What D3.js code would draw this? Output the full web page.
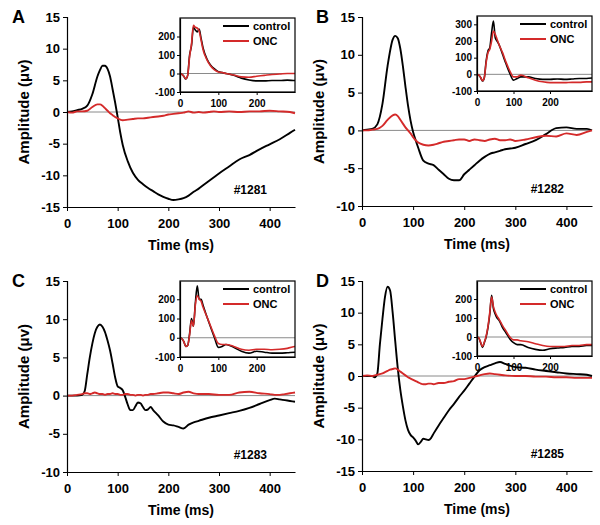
<html>
<head>
<meta charset="utf-8">
<script src="https://d3js.org/d3.v7.min.js"></script>
<style>
  body { margin: 0; background: white; }
  text { font-family: "Liberation Sans", Arial, sans-serif; font-weight: bold; }
</style>
</head>
<body>
<script>
// ---- data ----
const mainTicksX = [0, 100, 200, 300, 400];
const insetTicksX = [0, 100, 200];
const seriesNames = ["control", "ONC"];

const timeA = [0,10,20,30,40,50,60,65,70,75,80,85,90,95,100,105,110,120,130,140,150,160,170,180,190,200,210,220,230,240,250,260,270,280,290,300,320,340,360,380,400,420,440,450];
const controlA = [0,0.1,0.3,0.5,1.0,2.8,5.6,6.6,7.3,7.3,6.8,5.6,3.6,1.5,-0.8,-3.2,-5.2,-7.8,-9.6,-10.7,-11.4,-12.0,-12.5,-13.0,-13.4,-13.7,-13.9,-13.8,-13.6,-13.2,-12.6,-12.1,-11.5,-10.9,-10.3,-9.7,-8.6,-7.5,-6.8,-5.9,-5.1,-4.3,-3.3,-2.8];
const oncA = [0,-0.1,0.1,0.1,0.2,0.8,1.2,1.2,1.0,0.6,0.2,-0.2,-0.5,-0.8,-1.0,-1.2,-1.3,-1.2,-1.1,-1.0,-1.0,-0.9,-0.8,-0.7,-0.6,-0.4,-0.3,-0.2,-0.1,0.1,-0.1,0,-0.1,0,0.1,0,0.1,0,0.1,0.1,0.2,0.1,0,-0.2];

const timeB = timeA;
const controlB = [0,0.1,0.2,0.8,3.5,8.5,12.0,12.5,12.2,10.8,8.5,5.8,3.3,1.3,-0.2,-1.3,-2.3,-4.0,-4.4,-4.6,-5.2,-5.8,-6.4,-6.6,-6.6,-5.8,-5.2,-4.6,-4.0,-3.5,-3.1,-2.9,-2.7,-2.5,-2.4,-2.3,-1.8,-1.3,-0.5,0.3,0.4,0.2,0.2,0];
const oncB = [0,0,0.1,0.2,0.6,1.4,2.0,2.1,1.9,1.4,0.9,0.4,0,-0.4,-0.9,-1.3,-1.6,-1.9,-2.0,-1.9,-1.7,-1.5,-1.4,-1.3,-1.2,-1.2,-1.4,-1.2,-1.3,-1.4,-1.2,-1.1,-1.3,-1.3,-1.2,-1.4,-1.2,-0.9,-0.7,-0.8,-0.4,-0.6,-0.2,0];

const timeC = [0,10,20,30,35,40,45,50,55,60,65,70,75,80,85,90,95,100,105,110,115,120,125,130,135,140,145,150,155,160,165,170,180,190,200,210,220,230,240,250,260,280,300,320,340,360,380,400,410,420,430,440,450];
const controlC = [0,0,0,0.1,0.6,2.8,5.0,6.8,8.2,9.0,9.3,9.0,8.3,7.2,5.9,4.2,2.4,1.2,1.0,0.7,-0.2,-1.2,-1.9,-1.9,-1.4,-0.9,-1.0,-1.5,-1.9,-1.8,-1.5,-1.9,-2.6,-3.4,-3.8,-3.9,-4.1,-4.3,-3.8,-3.5,-3.3,-2.9,-2.6,-2.3,-2.0,-1.6,-1.1,-0.6,-0.4,-0.5,-0.6,-0.7,-0.8];
const oncC = [0,0,0.1,0.2,0.3,0.3,0.2,0.3,0.4,0.3,0.2,0.2,0.1,0.2,0.2,0.3,0.2,0.2,0.1,0.1,0.2,0.2,0.1,0.1,0,0.1,0.1,0,0.1,0.1,0.2,0.2,0.3,0.4,0.4,0.3,0.2,0.4,0.5,0.3,0.2,0.2,0.1,0.1,0.4,0.5,0.3,0.2,0.1,0.1,0.2,0.3,0.4];

const timeD = [0,10,20,25,30,35,40,45,50,55,60,65,70,75,80,85,90,95,100,105,110,115,120,125,130,135,140,150,160,170,180,190,200,210,220,230,240,250,260,270,280,300,320,340,360,380,400,420,440,450];
const controlD = [0,0,0,-0.2,0.4,5.0,9.0,12.5,14.1,13.5,10.0,5.5,1.2,-2.2,-4.8,-7.0,-8.5,-9.3,-9.7,-10.2,-10.8,-10.4,-9.9,-10.0,-10.1,-9.8,-9.1,-7.8,-6.6,-5.4,-4.4,-3.3,-2.3,-1.2,-0.1,0.9,1.4,1.7,2.0,2.2,1.9,1.4,1.3,1.0,0.8,0.6,0.4,0.3,0.2,0];
const oncD = [0,0.1,0,0.1,0.2,0.3,0.4,0.6,0.8,1.0,1.1,1.2,1.0,0.7,0.4,0.1,-0.2,-0.4,-0.6,-0.8,-1.0,-1.2,-1.3,-1.3,-1.2,-1.2,-1.3,-1.1,-1.1,-0.9,-0.8,-0.5,-0.5,-0.3,-0.1,0.1,0.3,0.4,0.3,0.2,0.1,0,0,-0.1,-0.1,-0.2,-0.2,-0.3,-0.3,-0.3];

// insets
const insetTime = [0,5,10,15,20,25,30,35,40,45,50,55,60,70,80,90,100,110,120,140,160,180,200,220,240,260,280,300,315];
const insetControlA = [0,-5,-15,-30,-10,100,150,250,235,225,240,190,140,80,45,25,10,5,0,-10,-25,-35,-40,-40,-38,-38,-36,-38,-38];
const insetOncA = [0,-5,-15,-28,-10,90,160,260,250,245,230,180,130,75,40,20,8,5,0,-8,-18,-20,-15,-10,-5,-3,0,0,0];
const insetControlB = [0,-5,-20,-40,-20,80,140,160,250,320,220,200,180,120,60,5,-35,-25,-15,-15,-25,-30,-30,-28,-30,-28,-25,-25,-22];
const insetOncB = [0,-5,-18,-38,-20,70,130,150,200,260,240,210,180,130,70,20,-15,-15,-5,-20,-35,-45,-50,-50,-50,-48,-48,-45,-45];
const insetControlC = [0,-5,-20,-45,-40,20,100,60,180,270,200,200,170,110,55,0,-50,-45,-35,-50,-70,-80,-70,-75,-80,-80,-78,-75,-75];
const insetOncC = [0,-5,-20,-45,-40,15,90,60,170,220,200,190,160,110,60,10,-30,-35,-35,-45,-60,-65,-60,-60,-62,-60,-55,-45,-40];
const insetControlD = [0,-5,-30,-55,-30,0,50,120,220,150,120,100,90,50,20,-10,-30,-40,-40,-55,-65,-70,-62,-58,-55,-50,-50,-45,-45];
const insetOncD = [0,-5,-28,-50,-28,5,55,130,210,160,130,110,95,60,30,0,-15,-15,-20,-25,-35,-45,-50,-50,-50,-45,-45,-40,-40];

const colors = { control: "black", ONC: "#d42a2a" };

// ---- layout ----
const panels = [
  { letter: "A", id: "#1281", t: timeA, control: controlA, onc: oncA, yDom: [-15, 15],
    left: 67, right: 295, top: 17, bottom: 207,
    inset: { control: insetControlA, onc: insetOncA, xMax: 300, yDom: [-100, 300], yTicks: [-100, 0, 100, 200],
             left: 180, right: 295, top: 18, bottom: 92 } },
  { letter: "B", id: "#1282", t: timeB, control: controlB, onc: oncB, yDom: [-10, 15],
    left: 362, right: 592, top: 17, bottom: 206,
    inset: { control: insetControlB, onc: insetOncB, xMax: 315, yDom: [-100, 350], yTicks: [-100, 0, 100, 200, 300],
             left: 477, right: 592, top: 16, bottom: 91 } },
  { letter: "C", id: "#1283", t: timeC, control: controlC, onc: oncC, yDom: [-10, 15],
    left: 67, right: 295, top: 281, bottom: 472,
    inset: { control: insetControlC, onc: insetOncC, xMax: 300, yDom: [-100, 295], yTicks: [-100, 0, 100, 200],
             left: 180, right: 295, top: 281, bottom: 357 } },
  { letter: "D", id: "#1285", t: timeD, control: controlD, onc: oncD, yDom: [-15, 15],
    left: 362, right: 592, top: 281, bottom: 471,
    inset: { control: insetControlD, onc: insetOncD, xMax: 315, yDom: [-100, 295], yTicks: [-100, 0, 100, 200],
             left: 477, right: 592, top: 281, bottom: 356 } }
];

const svg = d3.select("body").append("svg")
  .attr("width", 600).attr("height", 525);

const fmt = d => String(d); // plain hyphen minus like the original

function styleAxis(g, size) {
  g.select(".domain").attr("stroke", "black").attr("stroke-width", 1.2);
  g.selectAll(".tick line").attr("stroke", "black");
  g.selectAll("text").attr("font-size", size).attr("fill", "black")
    .style("font-family", "'Liberation Sans', Arial, sans-serif").style("font-weight", "bold");
}

panels.forEach(function(p, i) {
  const x = d3.scaleLinear().domain([0, 450]).range([p.left, p.right]);
  const y = d3.scaleLinear().domain(p.yDom).range([p.bottom, p.top]);
  const g = svg.append("g");

  // zero line
  g.append("line").attr("x1", x(0)).attr("x2", x(450)).attr("y1", y(0)).attr("y2", y(0))
    .attr("stroke", "#8a8a8a").attr("stroke-width", 1);

  const line = d3.line().curve(d3.curveMonotoneX);
  const series = [p.control, p.onc];
  series.forEach(function(vals, k) {
    const pts = p.t.map((t, j) => [x(t), y(vals[j])]);
    g.append("path").attr("d", line(pts)).attr("fill", "none")
      .attr("stroke", colors[seriesNames[k]]).attr("stroke-width", 1.9);
  });

  // axes
  const yTicks = d3.range(p.yDom[0], p.yDom[1] + 1, 5);
  g.append("g").attr("transform", "translate(" + p.left + ",0)")
    .call(d3.axisLeft(y).tickValues(yTicks).tickFormat(fmt).tickSize(4).tickPadding(3))
    .call(ax => styleAxis(ax, 13));
  g.append("g").attr("transform", "translate(0," + p.bottom + ")")
    .call(d3.axisBottom(x).tickValues(mainTicksX).tickFormat(fmt).tickSize(4).tickPadding(8).tickSizeOuter(0))
    .call(ax => styleAxis(ax, 13));

  // titles
  g.append("text").attr("x", (p.left + p.right) / 2).attr("y", p.bottom + 43)
    .attr("text-anchor", "middle").attr("font-size", 14).text("Time (ms)");
  g.append("text")
    .attr("transform", "translate(" + (p.left - 38) + "," + ((p.top + p.bottom) / 2) + ") rotate(-90)")
    .attr("text-anchor", "middle").attr("font-size", 15).text("Amplitude (\u03bcv)");
  g.append("text").attr("x", p.left - (i % 2 === 0 ? 55 : 46)).attr("y", p.top + 6)
    .attr("font-size", 18).text(p.letter);
  g.append("text").attr("x", p.right - 28).attr("y", p.bottom - 13)
    .attr("text-anchor", "end").attr("font-size", 12).text(p.id);

  // inset
  const q = p.inset;
  const ix = d3.scaleLinear().domain([0, q.xMax]).range([q.left, q.right]);
  const iy = d3.scaleLinear().domain(q.yDom).range([q.bottom, q.top]);
  const ig = svg.append("g");
  ig.append("rect").attr("x", q.left).attr("y", q.top)
    .attr("width", q.right - q.left).attr("height", q.bottom - q.top)
    .attr("fill", "white");
  const clipId = "clip" + i;
  ig.append("clipPath").attr("id", clipId).append("rect")
    .attr("x", q.left).attr("y", q.top).attr("width", q.right - q.left).attr("height", q.bottom - q.top);
  ig.append("line").attr("x1", q.left).attr("x2", q.right).attr("y1", iy(0)).attr("y2", iy(0))
    .attr("stroke", "#8a8a8a").attr("stroke-width", 1);
  [q.control, q.onc].forEach(function(vals, k) {
    const pts = insetTime.map((t, j) => [ix(t), iy(vals[j])]);
    ig.append("path").attr("d", line(pts)).attr("fill", "none")
      .attr("clip-path", "url(#" + clipId + ")")
      .attr("stroke", colors[seriesNames[k]]).attr("stroke-width", 1.6);
  });
  ig.append("rect").attr("x", q.left).attr("y", q.top)
    .attr("width", q.right - q.left).attr("height", q.bottom - q.top)
    .attr("fill", "none").attr("stroke", "black").attr("stroke-width", 1.2);
  ig.append("g").attr("transform", "translate(" + q.left + ",0)")
    .call(d3.axisLeft(iy).tickValues(q.yTicks).tickFormat(fmt).tickSize(3).tickPadding(2).tickSizeOuter(0))
    .call(ax => styleAxis(ax, 10));
  ig.append("g").attr("transform", "translate(0," + q.bottom + ")")
    .call(d3.axisBottom(ix).tickValues(insetTicksX).tickFormat(fmt).tickSize(3).tickPadding(5).tickSizeOuter(0))
    .call(ax => styleAxis(ax, 10));

  // legend
  seriesNames.forEach(function(name, k) {
    const ly = q.top + 8 + k * 15;
    ig.append("line").attr("x1", q.right - 72).attr("x2", q.right - 46)
      .attr("y1", ly).attr("y2", ly)
      .attr("stroke", colors[name]).attr("stroke-width", 2);
    ig.append("text").attr("x", q.right - 42).attr("y", ly + 4)
      .attr("font-size", 11).text(name);
  });
});
</script>
</body>
</html>
